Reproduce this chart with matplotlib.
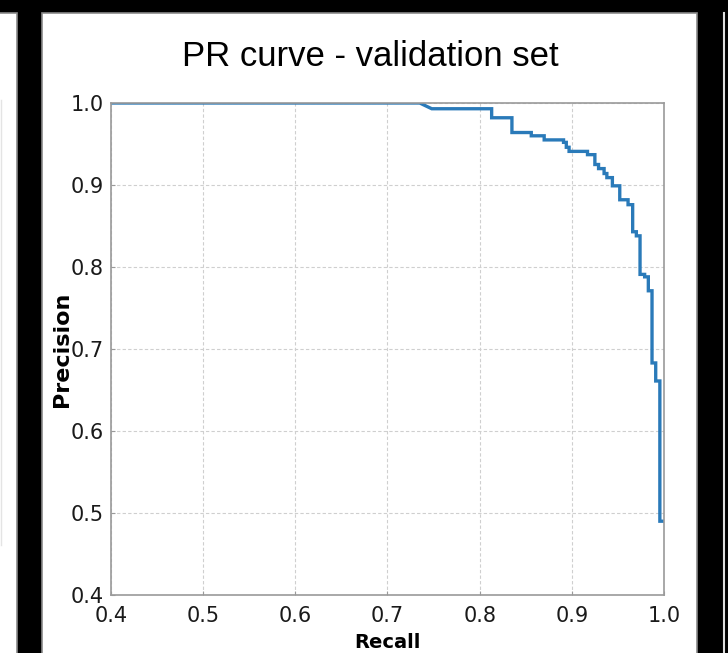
import matplotlib
matplotlib.use("Agg")
import matplotlib.pyplot as plt
from matplotlib.patches import Rectangle
from matplotlib.lines import Line2D

# ---- data ----
recall = [0.400, 0.735, 0.748, 0.813, 0.813, 0.835, 0.835, 0.856, 0.856, 0.870,
          0.870, 0.891, 0.891, 0.894, 0.894, 0.897, 0.897, 0.917, 0.917, 0.925,
          0.925, 0.929, 0.929, 0.935, 0.935, 0.938, 0.938, 0.944, 0.944, 0.952,
          0.952, 0.961, 0.961, 0.966, 0.966, 0.970, 0.970, 0.974, 0.974, 0.979,
          0.979, 0.983, 0.983, 0.987, 0.987, 0.991, 0.991, 0.9955, 0.9955, 0.999]
precision = [1.000, 1.000, 0.993, 0.993, 0.982, 0.982, 0.964, 0.964, 0.960, 0.960,
             0.955, 0.955, 0.952, 0.952, 0.946, 0.946, 0.941, 0.941, 0.937, 0.937,
             0.925, 0.925, 0.920, 0.920, 0.914, 0.914, 0.909, 0.909, 0.899, 0.899,
             0.882, 0.882, 0.876, 0.876, 0.843, 0.843, 0.838, 0.838, 0.791, 0.791,
             0.788, 0.788, 0.771, 0.771, 0.683, 0.683, 0.661, 0.661, 0.490, 0.490]
x_ticks = [0.4, 0.5, 0.6, 0.7, 0.8, 0.9, 1.0]
y_ticks = [0.4, 0.5, 0.6, 0.7, 0.8, 0.9, 1.0]
title = "PR curve - validation set"
xlabel = "Recall"
ylabel = "Precision"

W, H = 728, 653
fig = plt.figure(figsize=(W / 100, H / 100), dpi=100, facecolor="black")


def fx(px):
    return px / W


def fy(py):
    return 1 - py / H


def panel(x0, y0, x1, y1):
    fig.add_artist(Rectangle((fx(x0), fy(y1)), fx(x1 - x0), (y1 - y0) / H,
                             transform=fig.transFigure, facecolor="white",
                             edgecolor="#8a8a8a", linewidth=1.2, zorder=0))


panel(-5, 13, 17, 660)
panel(42, 13, 697, 660)
fig.add_artist(Line2D([fx(724), fx(724)], [fy(13), fy(653)], transform=fig.transFigure,
                      color="#dddddd", linewidth=1.5, zorder=0))
fig.add_artist(Line2D([fx(1), fx(1)], [fy(100), fy(545)], transform=fig.transFigure,
                      color="#e4e4e4", linewidth=1.0, zorder=1))

ax = fig.add_axes([fx(111), fy(595), fx(664 - 111), (595 - 103) / H])
ax.set_facecolor("white")
ax.plot(recall, precision, color="#2a7ab9", linewidth=2.4, solid_joinstyle="miter")
ax.set_xlim(0.4, 1.0)
ax.set_ylim(0.4, 1.0)
ax.set_xticks(x_ticks)
ax.set_yticks(y_ticks)
ax.set_xticklabels([f"{v:.1f}" for v in x_ticks])
ax.set_yticklabels([f"{v:.1f}" for v in y_ticks])
ax.grid(True, color="#cfcfcf", linestyle=(0, (3, 2)), linewidth=0.8)
ax.set_axisbelow(True)
for s in ax.spines.values():
    s.set_color("#9a9a9a")
    s.set_linewidth(1.2)
ax.tick_params(axis="both", direction="in", length=3, width=0.8, color="#9a9a9a",
               labelsize=15, labelcolor="#1a1a1a")
ax.tick_params(axis="y", pad=5)
ax.tick_params(axis="x", pad=8)

ax.set_ylabel(ylabel, fontsize=16, fontweight="bold", family="DejaVu Sans")
ax.yaxis.set_label_coords((72 - 111) / 553, 0.5)
ax.set_xlabel(xlabel, fontsize=14, fontweight="bold", family="DejaVu Sans")
ax.xaxis.set_label_coords(0.5, -(633 - 595) / 492)

fig.text(fx(370), fy(66), title, ha="center", va="baseline", fontsize=25,
         family=["Liberation Sans"], color="black")

fig.savefig("out.png", dpi=100, facecolor="black")
